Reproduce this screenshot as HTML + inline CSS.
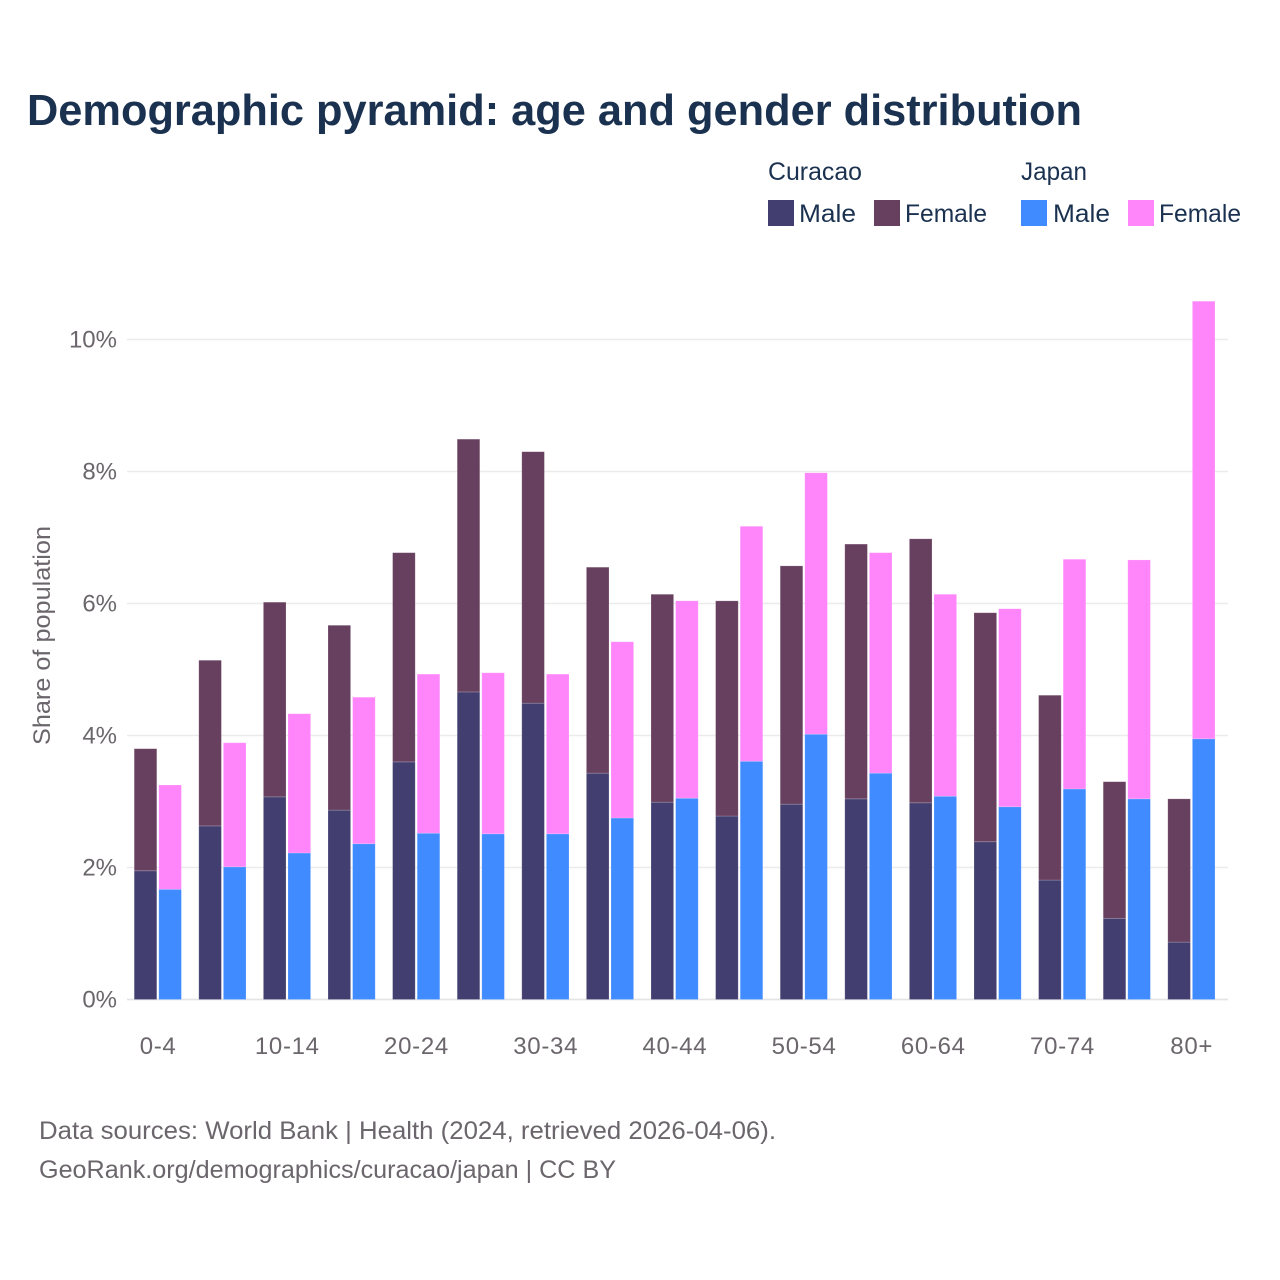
<!DOCTYPE html>
<html lang="en">
<head>
<meta charset="utf-8">
<title>Demographic pyramid</title>
<style>
html,body{margin:0;padding:0;background:#fff;width:1280px;height:1280px;overflow:hidden}
svg{display:block}
text{font-family:"Liberation Sans",sans-serif}
.leg{fill:#1a3150;font-size:25px}
.tick{fill:#6b666b;font-size:24px}
.note{fill:#6b666b;font-size:25px}
</style>
</head>
<body>
<svg id="chart" width="1280" height="1280" viewBox="0 0 1280 1280" xmlns="http://www.w3.org/2000/svg">
  <rect width="1280" height="1280" fill="#fff"/>
  <text x="27" y="125" font-size="44" font-weight="700" fill="#1a3150" textLength="1055" lengthAdjust="spacingAndGlyphs">Demographic pyramid: age and gender distribution</text>

  <g>
    <text class="leg" x="768" y="180" textLength="94" lengthAdjust="spacingAndGlyphs">Curacao</text>
    <text class="leg" x="1021" y="180" textLength="66" lengthAdjust="spacingAndGlyphs">Japan</text>
    <rect x="768" y="200" width="26" height="26" fill="#423f70"/>
    <text class="leg" x="799" y="222" textLength="57" lengthAdjust="spacingAndGlyphs">Male</text>
    <rect x="874" y="200" width="26" height="26" fill="#67405f"/>
    <text class="leg" x="905" y="222" textLength="82" lengthAdjust="spacingAndGlyphs">Female</text>
    <rect x="1021" y="200" width="26" height="26" fill="#408bff"/>
    <text class="leg" x="1053" y="222" textLength="57" lengthAdjust="spacingAndGlyphs">Male</text>
    <rect x="1128" y="200" width="26" height="26" fill="#ff85fa"/>
    <text class="leg" x="1159" y="222" textLength="82" lengthAdjust="spacingAndGlyphs">Female</text>
  </g>

  <g id="grid"></g>
  <g id="bars"></g>
  <g id="yaxis"></g>
  <g id="xaxis"></g>

  <text transform="translate(50,745) rotate(-90)" x="0" y="0" font-size="24" fill="#6b666b" textLength="219" lengthAdjust="spacingAndGlyphs">Share of population</text>

  <text class="note" x="39" y="1139" textLength="737" lengthAdjust="spacingAndGlyphs">Data sources: World Bank | Health (2024, retrieved 2026-04-06).</text>
  <text class="note" x="39" y="1178" textLength="577" lengthAdjust="spacingAndGlyphs">GeoRank.org/demographics/curacao/japan | CC BY</text>
</svg>
<script>
const categories = ["0-4","5-9","10-14","15-19","20-24","25-29","30-34","35-39","40-44","45-49","50-54","55-59","60-64","65-69","70-74","75-79","80+"];
const curacaoMale = [1.95,2.63,3.07,2.87,3.60,4.66,4.49,3.43,2.99,2.78,2.96,3.04,2.98,2.39,1.81,1.23,0.87];
const curacaoFemale = [1.85,2.51,2.95,2.80,3.17,3.83,3.81,3.12,3.15,3.26,3.61,3.86,4.00,3.47,2.80,2.07,2.17];
const japanMale = [1.67,2.01,2.22,2.36,2.52,2.51,2.51,2.75,3.05,3.61,4.02,3.43,3.08,2.92,3.19,3.04,3.95];
const japanFemale = [1.58,1.88,2.11,2.22,2.41,2.44,2.42,2.67,2.99,3.56,3.96,3.34,3.06,3.00,3.48,3.62,6.63];
const yTickValues = [0,2,4,6,8,10];

const SVG_NS = "http://www.w3.org/2000/svg";
const barWidth = 22.6;
const barGap = 2;
function yScale(v){ return 999.5 - v * 66; }
function xScale(i){ return 134.2 + i * 64.6; }

const gridLayer = document.getElementById("grid");
const barLayer = document.getElementById("bars");
const yLayer = document.getElementById("yaxis");
const xLayer = document.getElementById("xaxis");

yTickValues.forEach(function(t){
  const line = document.createElementNS(SVG_NS, "line");
  
  
  line.setAttribute("x1", 127);
  line.setAttribute("x2", 1228);
  line.setAttribute("y1", yScale(t));
  line.setAttribute("y2", yScale(t));
  line.setAttribute("stroke", t === 0 ? "#e4e4e4" : "#ebebeb");
  line.setAttribute("stroke-width", t === 0 ? 1.8 : 1.4);
  gridLayer.appendChild(line);

  const label = document.createElementNS(SVG_NS, "text");
  
  
  label.setAttribute("class", "tick");
  label.setAttribute("x", 117);
  label.setAttribute("y", yScale(t) + 8);
  label.setAttribute("text-anchor", "end");
  label.textContent = t + "%";
  yLayer.appendChild(label);
});

function addBar(x, base, value, fill, name){
  const r = document.createElementNS(SVG_NS, "rect");
  
  
  const top = yScale(base + value);
  r.setAttribute("x", x);
  r.setAttribute("y", top);
  r.setAttribute("width", barWidth);
  r.setAttribute("height", yScale(base) - top);
  r.setAttribute("fill", fill);
  r.setAttribute("stroke", "#ffffff");
  r.setAttribute("stroke-opacity", "0.25");
  r.setAttribute("stroke-width", "0.7");
  barLayer.appendChild(r);
}

categories.forEach(function(cat, i){
  const x0 = xScale(i);
  const x1 = x0 + barWidth + barGap;
  addBar(x0, 0, curacaoMale[i], "#423f70", "bar-curacao-male-" + cat);
  addBar(x0, curacaoMale[i], curacaoFemale[i], "#67405f", "bar-curacao-female-" + cat);
  addBar(x1, 0, japanMale[i], "#408bff", "bar-japan-male-" + cat);
  addBar(x1, japanMale[i], japanFemale[i], "#ff85fa", "bar-japan-female-" + cat);
  if (i % 2 === 0) {
    const label = document.createElementNS(SVG_NS, "text");
    
    
    label.setAttribute("class", "tick");
    label.setAttribute("x", x0 + barWidth + barGap / 2 + 0.3);
    label.setAttribute("y", 1054);
    label.setAttribute("text-anchor", "middle");
    label.setAttribute("letter-spacing", "0.7");
    label.textContent = cat;
    xLayer.appendChild(label);
  }
});
</script>
</body>
</html>
